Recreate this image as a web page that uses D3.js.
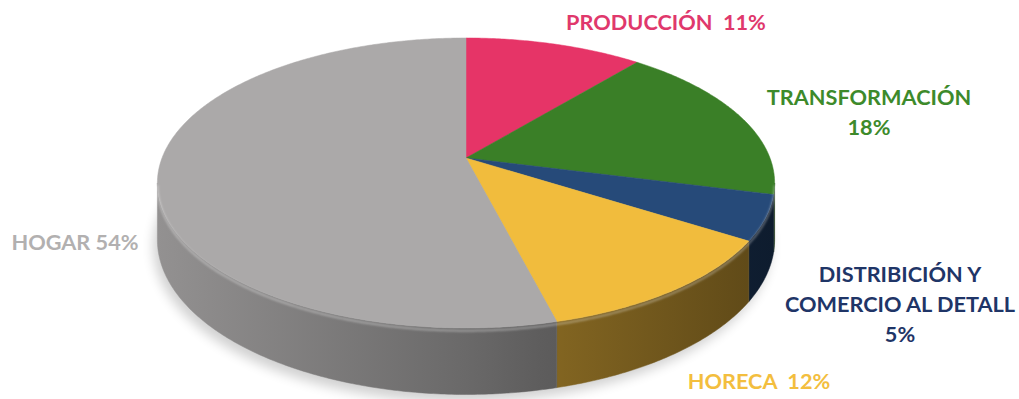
<!DOCTYPE html>
<html>
<head>
<meta charset="utf-8">
<script src="https://cdn.jsdelivr.net/npm/d3@7"></script>
<style>
  body { margin: 0; background: #fff; }
  text { font-family: Lato, "Open Sans", sans-serif; font-weight: 700; white-space: pre; }
</style>
</head>
<body>
<div id="chart"></div>
<script>
var width = 1019,
    height = 399;

// data
var categories = ["PRODUCCIÓN", "TRANSFORMACIÓN", "DISTRIBICIÓN Y COMERCIO AL DETALL", "HORECA", "HOGAR"];
var values = [11, 18, 5, 12, 54];
var colors = ["#e63467", "#3a7f27", "#264a79", "#f1bc3d", "#aba9a9"];
var labelColors = ["#e0386c", "#3d8a2b", "#1f3567", "#f3be3e", "#b2b0b0"];
var labelLines = [
  ["PRODUCCIÓN\u00a0\u00a011%"],
  ["TRANSFORMACIÓN", "18%"],
  ["DISTRIBICIÓN Y", "COMERCIO AL DETALL", "5%"],
  ["HORECA\u00a0\u00a012%"],
  ["HOGAR 54%"]
];
var labelPos = [[666, 30], [869, 105], [900, 282], [759, 389], [75, 250]];

// 3d projection of the disc (simple perspective)
var cx = 466, cy = 158,
    m = 304, k = 140.7, p = 0.1724, thick = 55;

function project(a, h) {
  var X = Math.sin(a), Y = Math.cos(a);
  var den = 1 + p * Y;
  return [cx + m * X / den, cy + (-k * Y + thick * h) / den];
}

function arcPoints(a0, a1, h) {
  var pts = [], n = Math.max(2, Math.ceil((a1 - a0) / 0.01));
  for (var i = 0; i <= n; i++) pts.push(project(a0 + (a1 - a0) * i / n, h));
  return pts;
}

var pie = d3.pie().sort(null).value(function(d){ return d.value; });
var data = pie(categories.map(function(c, i){
  return {name: c, value: values[i], color: colors[i], i: i};
}));

var svg = d3.select("#chart")
  .append("svg")
  .attr("width", width)
  .attr("height", height);

var defs = svg.append("defs");
defs.append("filter").attr("id", "blur").attr("x", "-20%").attr("y", "-20%")
  .attr("width", "140%").attr("height", "140%")
  .append("feGaussianBlur").attr("stdDeviation", 6);
defs.append("filter").attr("id", "soft")
  .append("feGaussianBlur").attr("stdDeviation", 0.8);

var line = d3.line();

// shadow under the pie
var full = arcPoints(0, Math.PI * 2, 1.05);
svg.append("path")
  .attr("d", line(full) + "Z")
  .attr("transform", "translate(-4,4)")
  .attr("fill", "#000")
  .attr("opacity", 0.18)
  .attr("filter", "url(#blur)");

// side walls, visible front part only
var visStart = Math.acos(-p), visEnd = 2 * Math.PI - Math.acos(-p);

function shade(c, r) {
  var col = d3.rgb(c);
  return d3.rgb(col.r * r, col.g * r, col.b * r).formatHex();
}

data.forEach(function(d) {
  var g = defs.append("linearGradient")
    .attr("id", "side" + d.data.i)
    .attr("gradientUnits", "userSpaceOnUse")
    .attr("x1", 157).attr("x2", 775).attr("y1", 0).attr("y2", 0);
  [[0, 0.86], [0.5, 0.62], [0.62, 0.55], [1, 0.38]].forEach(function(s) {
    g.append("stop").attr("offset", s[0]).attr("stop-color", shade(d.data.color, s[1]));
  });
});

svg.selectAll(".side")
  .data(data.filter(function(d){ return d.endAngle > visStart && d.startAngle < visEnd; }))
  .enter().append("path")
  .attr("class", "side")
  .attr("d", function(d) {
    var a0 = Math.max(d.startAngle, visStart), a1 = Math.min(d.endAngle, visEnd);
    var top = arcPoints(a0, a1, 0), bot = arcPoints(a0, a1, 1).reverse();
    return line(top.concat(bot)) + "Z";
  })
  .attr("fill", function(d){ return "url(#side" + d.data.i + ")"; })
  .attr("stroke", function(d){ return "url(#side" + d.data.i + ")"; })
  .attr("stroke-width", 0.5);

// top faces
svg.selectAll(".top")
  .data(data)
  .enter().append("path")
  .attr("class", "top")
  .attr("d", function(d) {
    return line([[cx, cy]].concat(arcPoints(d.startAngle, d.endAngle, 0))) + "Z";
  })
  .attr("fill", function(d){ return d.data.color; })
  .attr("stroke", function(d){ return d.data.color; })
  .attr("stroke-width", 0.5);

// soft rim highlight along the front edge
svg.append("path")
  .attr("d", line(arcPoints(visStart, visEnd, 0.04)))
  .attr("fill", "none")
  .attr("stroke", "#fff")
  .attr("stroke-opacity", 0.35)
  .attr("stroke-width", 2)
  .attr("filter", "url(#soft)");

// labels
var labels = svg.selectAll(".label")
  .data(data)
  .enter().append("text")
  .attr("class", "label")
  .attr("text-anchor", "middle")
  .attr("font-size", 21.7)
  .attr("fill", function(d){ return labelColors[d.data.i]; });

labels.selectAll("tspan")
  .data(function(d){
    return labelLines[d.data.i].map(function(t, j){ return {t: t, j: j, i: d.data.i}; });
  })
  .enter().append("tspan")
  .attr("x", function(d){ return labelPos[d.i][0]; })
  .attr("y", function(d){ return labelPos[d.i][1] + d.j * 30; })
  .text(function(d){ return d.t; });
</script>
</body>
</html>
